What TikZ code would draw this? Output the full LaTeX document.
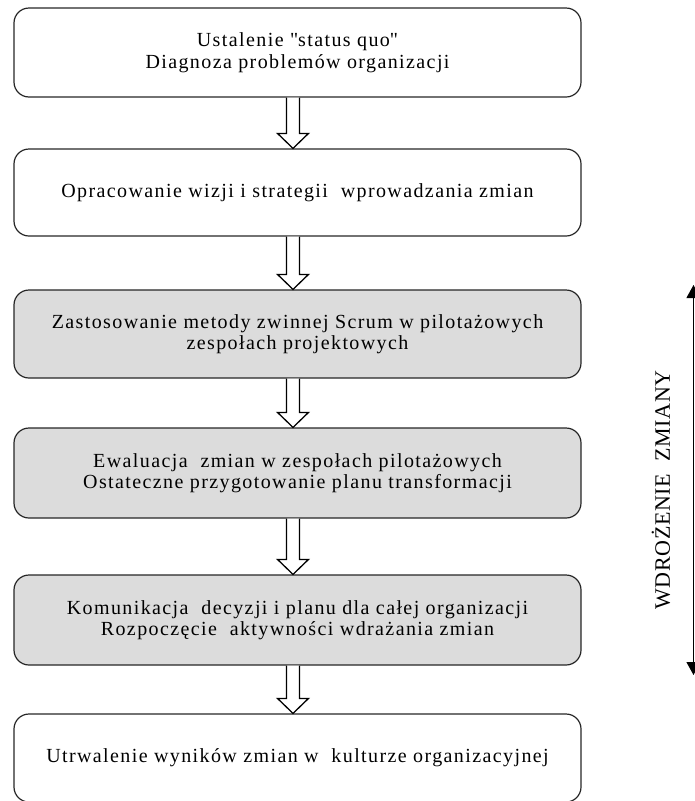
\documentclass[tikz,border=0pt]{standalone}
\usepackage{fontspec}
\setmainfont[LetterSpace=7]{Liberation Serif}
\newfontfamily\labelfont[LetterSpace=3]{Liberation Serif}
\usetikzlibrary{calc,arrows.meta}

\definecolor{boxgray}{RGB}{220,220,220}

\tikzset{
    stage/.style={draw=black!85, line width=1.2pt, rounded corners=15pt,
        minimum width=567pt, align=center, inner sep=0pt,
        font=\fontsize{20}{21.5}\selectfont},
    stagegray/.style={stage, fill=boxgray},
    hollow/.style={draw=black, line width=1.3pt, fill=white, line join=miter},
    span/.style={line width=1.1pt, {Triangle[length=13pt,width=14pt]}-{Triangle[length=13pt,width=14pt]}}
}

% hollow block arrow between two stages
\newcommand\stagearrow[2]{%
    \draw[hollow] let \p1=([xshift=-4.5pt]#1.south), \p2=([xshift=-4.5pt]#2.north) in
        (\x1-6.5pt,\y1) -- (\x1-6.5pt,\y2+15pt) -- (\x1-15.5pt,\y2+15pt) -- (\x2,\y2)
        -- (\x1+15.5pt,\y2+15pt) -- (\x1+6.5pt,\y2+15pt) -- (\x1+6.5pt,\y1);
}

\begin{document}
\begin{tikzpicture}[x=1pt,y=-1pt]
    \useasboundingbox (0,0) rectangle (695,801);

    \node[stage, minimum height=89pt] (s1) at (297.5,52.5)
        {Ustalenie \textquotedbl status quo\textquotedbl\\Diagnoza problemów organizacji};
    \node[stage, minimum height=87pt] (s2) at (297.5,192.5)
        {Opracowanie wizji i strategii\ \ wprowadzania zmian};
    \node[stagegray, minimum height=88pt] (s3) at (297.5,334)
        {Zastosowanie metody zwinnej Scrum w pilotażowych\\zespołach projektowych};
    \node[stagegray, minimum height=90pt] (s4) at (297.5,473)
        {Ewaluacja\ \ zmian w zespołach pilotażowych\\Ostateczne przygotowanie planu transformacji};
    \node[stagegray, minimum height=90pt] (s5) at (297.5,620)
        {Komunikacja\ \ decyzji i planu dla całej organizacji\\Rozpoczęcie\ \ aktywności wdrażania zmian};
    \node[stage, minimum height=88pt] (s6) at (297.5,758)
        {Utrwalenie wyników zmian w\ \ kulturze organizacyjnej};

    \stagearrow{s1}{s2}
    \stagearrow{s2}{s3}
    \stagearrow{s3}{s4}
    \stagearrow{s4}{s5}
    \stagearrow{s5}{s6}

    \coordinate (top) at (693.5,285);
    \coordinate (bottom) at (693.5,675);
    \draw[span] (top) -- (bottom);
    \node[rotate=90, font=\labelfont\fontsize{22}{24}\selectfont] (impl) at (661,490)
        {WDROŻENIE\ \ ZMIANY};
\end{tikzpicture}
\end{document}
